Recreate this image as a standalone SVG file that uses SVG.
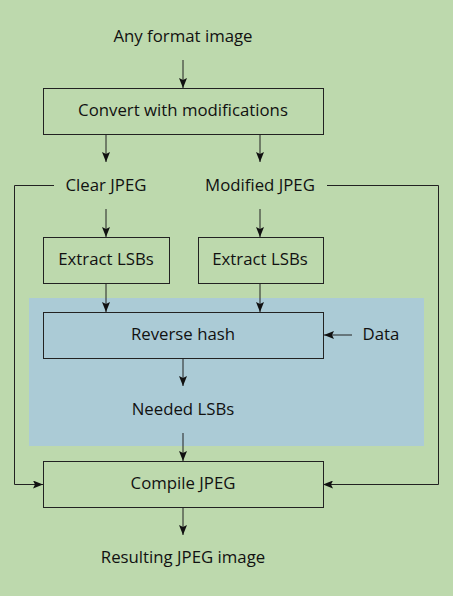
<svg xmlns="http://www.w3.org/2000/svg" width="453" height="596" viewBox="0 0 453 596">
<defs>
<marker id="ah" markerWidth="10" markerHeight="8" refX="10" refY="4" orient="auto" markerUnits="userSpaceOnUse">
<path d="M0,0 L10,4 L0,8 L2,4 Z" fill="#111"/>
</marker>
<style>
text{font-family:"Open Sans","Noto Sans",sans-serif;font-size:16.8px;fill:#111;text-anchor:middle}
.box{fill:none;stroke:#222;stroke-width:1}
.ln{fill:none;stroke:#222;stroke-width:1}
.ar{marker-end:url(#ah)}
</style>
</defs>
<rect width="453" height="596" fill="#bdd9ad"/>
<rect id="region" x="29" y="298" width="395" height="148" fill="#abcbd6"/>
<g id="connectors">
<line class="ln ar" x1="183" y1="60" x2="183" y2="88"/>
<line class="ln ar" x1="106" y1="134" x2="106" y2="162"/>
<line class="ln ar" x1="260" y1="134" x2="260" y2="162"/>
<line class="ln ar" x1="106" y1="209" x2="106" y2="237"/>
<line class="ln ar" x1="260" y1="209" x2="260" y2="237"/>
<line class="ln ar" x1="106" y1="283" x2="106" y2="312"/>
<line class="ln ar" x1="260" y1="283" x2="260" y2="312"/>
<line class="ln ar" x1="352" y1="335" x2="324" y2="335"/>
<line class="ln ar" x1="183" y1="358" x2="183" y2="386"/>
<line class="ln ar" x1="183" y1="433" x2="183" y2="461"/>
<line class="ln ar" x1="183" y1="507" x2="183" y2="535"/>
<polyline class="ln ar" points="54,185.5 14.5,185.5 14.5,484.5 43,484.5"/>
<polyline class="ln ar" points="327,185.5 438.5,185.5 438.5,484.5 323,484.5"/>
</g>
<g id="n-input"><text x="183" y="42">Any format image</text></g>
<g id="n-convert"><rect class="box" x="43.5" y="88.5" width="280" height="46"/><text x="183" y="116">Convert with modifications</text></g>
<g id="n-clear"><text x="106" y="191">Clear JPEG</text></g>
<g id="n-modified"><text x="260" y="191">Modified JPEG</text></g>
<g id="n-extract1"><rect class="box" x="43.5" y="237.5" width="126" height="46"/><text x="106" y="265">Extract LSBs</text></g>
<g id="n-extract2"><rect class="box" x="198.5" y="237.5" width="125" height="46"/><text x="260" y="265">Extract LSBs</text></g>
<g id="n-reverse"><rect class="box" x="43.5" y="312.5" width="280" height="46"/><text x="183" y="340">Reverse hash</text></g>
<g id="n-data"><text x="381" y="340">Data</text></g>
<g id="n-needed"><text x="183" y="415">Needed LSBs</text></g>
<g id="n-compile"><rect class="box" x="43.5" y="461.5" width="280" height="46"/><text x="183" y="489">Compile JPEG</text></g>
<g id="n-result"><text x="183" y="563">Resulting JPEG image</text></g>
</svg>
